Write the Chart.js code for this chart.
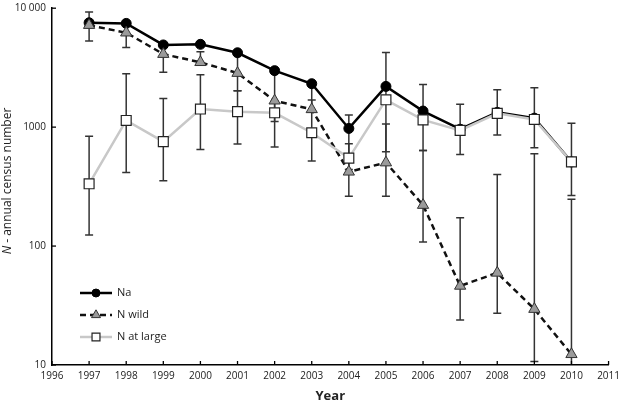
<!DOCTYPE html>
<html><head><meta charset="utf-8">
<script src="https://cdn.jsdelivr.net/npm/chart.js@4.4.0/dist/chart.umd.min.js"></script>
<style>html,body{margin:0;padding:0;background:#fff}</style>
</head><body>
<canvas id="c" width="621" height="401"></canvas>
<script>
const years = [1997,1998,1999,2000,2001,2002,2003,2004,2005,2006,2007,2008,2009,2010];
const na     = [7540,7450,4910,4970,4220,2985,2318,975,2200,1365,960,1330,1190,510];
const nWild  = [7200,6220,4110,3510,2846,1667,1410,421,503,221,46.2,59.5,29.5,12.3];
const nLarge = [334,1138,755,1419,1350,1320,897,549,1698,1151,940,1306,1160,510];
const nWildLow   = [5300,4670,2897,3350,2018,1114,1350,262,262,108,23.9,27.2,10.7,8];
const nWildHigh  = [9300,7400,4900,4300,4200,2950,2300,1265,1064,635,173,400,597,247];
const nLargeLow  = [124,415,354,649,723,682,519,440,621,635,589,859,670,266];
const nLargeHigh = [837,2805,1742,2754,2018,1650,1687,726,4250,2286,1560,2066,2147,1079];
const yTicks = [10,100,1000,10000];
const xTicks = [1996,1997,1998,1999,2000,2001,2002,2003,2004,2005,2006,2007,2008,2009,2010,2011];
const seriesNames = ['Na','N wild','N at large'];

const FONT = '"Open Sans", sans-serif';
const pts = arr => years.map((y,i)=>({x:y,y:arr[i]}));

const errorBars = {
  id:'errorBars',
  beforeDatasetsDraw(chart){
    const {ctx, chartArea:a, scales:{x,y}} = chart;
    ctx.save();
    ctx.beginPath(); ctx.rect(a.left-6, a.top-6, a.right-a.left+12, a.bottom-a.top+6); ctx.clip();
    ctx.strokeStyle='#333'; ctx.lineWidth=1.5;
    const draw = (lo,hi)=>{
      years.forEach((yr,i)=>{
        const px = x.getPixelForValue(yr);
        const p1 = y.getPixelForValue(Math.max(lo[i],10));
        const p2 = y.getPixelForValue(hi[i]);
        ctx.beginPath(); ctx.moveTo(px,p1); ctx.lineTo(px,p2); ctx.stroke();
        [lo[i],hi[i]].forEach(v=>{ if(v>=10){ const py=y.getPixelForValue(v);
          ctx.beginPath(); ctx.moveTo(px-4,py); ctx.lineTo(px+4,py); ctx.stroke(); }});
      });
    };
    draw(nWildLow,nWildHigh);
    draw(nLargeLow,nLargeHigh);
    ctx.restore();
  },
  afterDraw(chart){
    const {ctx, chartArea:a, scales:{x,y}} = chart;
    ctx.save();
    ctx.strokeStyle='#000'; ctx.lineWidth=1.3;
    xTicks.forEach(v=>{const px=x.getPixelForValue(v); ctx.beginPath(); ctx.moveTo(px,a.bottom); ctx.lineTo(px,a.bottom-4); ctx.stroke();});
    yTicks.forEach(v=>{const py=y.getPixelForValue(v); ctx.beginPath(); ctx.moveTo(a.left,py); ctx.lineTo(a.left+4,py); ctx.stroke();});
    // y title
    ctx.fillStyle='#222'; ctx.textBaseline='middle';
    ctx.translate(8,181); ctx.rotate(-Math.PI/2);
    ctx.font='italic 12px '+FONT; const w1=ctx.measureText('N').width;
    ctx.font='12px '+FONT; const rest=' - annual census number'; const w2=ctx.measureText(rest).width;
    const s=-(w1+w2)/2;
    ctx.font='italic 12px '+FONT; ctx.fillText('N',s,0);
    ctx.font='12px '+FONT; ctx.fillText(rest,s+w1,0);
    ctx.restore();
    // x title
    ctx.save(); ctx.fillStyle='#222'; ctx.font='bold 13px '+FONT; ctx.textAlign='center'; ctx.textBaseline='alphabetic';
    ctx.fillText('Year',(a.left+a.right)/2,399.5); ctx.restore();
    // legend
    ctx.save();
    const ds = chart.data.datasets;
    const order=[2,1,0];
    const rows=[293,315,337];
    order.forEach((di,r)=>{
      const d=ds[di]; const ry=rows[r];
      ctx.save(); ctx.strokeStyle=d.borderColor; ctx.lineWidth=d.borderWidth; ctx.setLineDash(d.borderDash||[]);
      ctx.beginPath(); ctx.moveTo(80,ry); ctx.lineTo(112,ry); ctx.stroke(); ctx.restore();
      ctx.save(); ctx.fillStyle=d.pointBackgroundColor; ctx.strokeStyle=d.pointBorderColor; ctx.lineWidth=d.pointBorderWidth;
      Chart.helpers.drawPoint(ctx,{pointStyle:d.pointStyle,radius:d.pointRadius*0.8,borderWidth:d.pointBorderWidth,rotation:0},96,ry);
      ctx.restore();
      ctx.fillStyle='#222'; ctx.font='11px '+FONT; ctx.textBaseline='middle'; ctx.textAlign='left';
      ctx.fillText(d.label,117,ry);
    });
    ctx.restore();
  }
};

new Chart(document.getElementById('c'),{
  type:'line',
  data:{datasets:[
    {label:seriesNames[2],data:pts(nLarge),order:0,borderColor:'#c8c8c8',borderWidth:2.5,pointStyle:'rect',pointRadius:7,pointBackgroundColor:'#fff',pointBorderColor:'#222',pointBorderWidth:1.2,tension:0},
    {label:seriesNames[1],data:pts(nWild),order:1,borderColor:'#111',borderWidth:2.5,borderDash:[6,4],pointStyle:'triangle',pointRadius:6.5,pointBackgroundColor:'#9a9a9a',pointBorderColor:'#333',pointBorderWidth:1,tension:0},
    {label:seriesNames[0],data:pts(na),order:2,borderColor:'#000',borderWidth:2.5,pointStyle:'circle',pointRadius:5,pointBackgroundColor:'#000',pointBorderColor:'#000',pointBorderWidth:1,tension:0}
  ]},
  options:{
    responsive:false, animation:false, devicePixelRatio:1,
    layout:{padding:{left:0,right:8,top:3.5,bottom:0}},
    plugins:{legend:{display:false},tooltip:{enabled:false}},
    scales:{
      x:{type:'linear',min:1996,max:2011,
         afterBuildTicks:s=>{s.ticks=xTicks.map(v=>({value:v}));},
         afterFit:s=>{s.height=36;},
         ticks:{font:{family:'Open Sans',size:10},color:'#222',padding:1,maxRotation:0,autoSkip:false,callback:v=>String(v)},
         grid:{display:false,drawTicks:true,tickLength:4},border:{display:true,color:'#000',width:1.5}},
      y:{type:'logarithmic',min:10,max:10000,
         afterBuildTicks:s=>{s.ticks=yTicks.map(v=>({value:v,major:true}));},
         afterFit:s=>{s.width=52;},
         ticks:{font:{family:'Open Sans',size:10,lineHeight:0.4},color:'#222',padding:1,autoSkip:false,callback:v=>v===10000?'10 000':String(v)},
         grid:{display:false,drawTicks:true,tickLength:5},border:{display:true,color:'#000',width:1.5}}
    }
  },
  plugins:[errorBars]
});
</script>
</body></html>
